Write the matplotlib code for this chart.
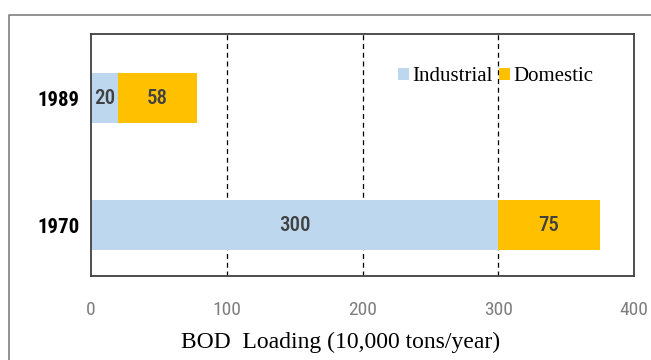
import matplotlib.pyplot as plt
from matplotlib.lines import Line2D

# BOD loading by source (10,000 tons/year)
years = ['1970', '1989']
industrial = [300, 20]
domestic = [75, 58]
xticks = [0, 100, 200, 300, 400]

blue = '#bdd7ee'
gold = '#ffc000'
narrow = dict(family=['Roboto Condensed', 'Roboto', 'DejaVu Sans'])
serif = ['Liberation Serif', 'DejaVu Serif']

fig = plt.figure(figsize=(6.51, 3.6), dpi=100)
ax = fig.add_axes([91 / 651, 1 - 276 / 360, 543 / 651, 242 / 360])

pos = range(len(years))
b1 = ax.barh(pos, industrial, height=0.39, color=blue, label='Industrial')
b2 = ax.barh(pos, domestic, left=industrial, height=0.39, color=gold, label='Domestic')

for bars, vals in [(b1, industrial), (b2, domestic)]:
    for bar, v in zip(bars, vals):
        ax.text(bar.get_x() + bar.get_width() / 2, bar.get_y() + bar.get_height() / 2,
                str(v), ha='center', va='center', fontsize=15, fontweight='medium',
                color='#404040', **narrow)

ax.set_xlim(0, 400)
ax.set_ylim(-0.4, 1.504)
ax.set_xticks(xticks)
ax.set_xticklabels([str(t) for t in xticks], fontsize=14, color='#7f7f7f', **narrow)
ax.set_yticks(list(pos))
ax.set_yticklabels(years, fontsize=15, fontweight='bold', color='black', **narrow)
ax.tick_params(axis='x', length=0, pad=18)
ax.tick_params(axis='y', length=0, pad=8)

for x in xticks[1:-1]:
    ax.axvline(x, color='black', linestyle=(0, (4, 3)), linewidth=0.9, zorder=0)
for s in ax.spines.values():
    s.set_color('#404040')
    s.set_linewidth(1.3)

ax.set_xlabel('BOD  Loading (10,000 tons/year)', family=serif, fontsize=17)
ax.xaxis.set_label_coords(0.46, -0.232)

leg = ax.legend(loc='upper right', bbox_to_anchor=(0.96, 0.94), ncol=2, frameon=False,
                prop={'family': serif, 'size': 15}, handlelength=0.55, handleheight=0.55,
                handletextpad=0.15, columnspacing=0.3)

# outer chart frame
fig.add_artist(Line2D([9 / 651, 9 / 651, 1], [0, 1 - 15 / 360, 1 - 15 / 360],
                      transform=fig.transFigure, color='#7f7f7f', linewidth=1.2))

fig.savefig('out.png', dpi=100)
